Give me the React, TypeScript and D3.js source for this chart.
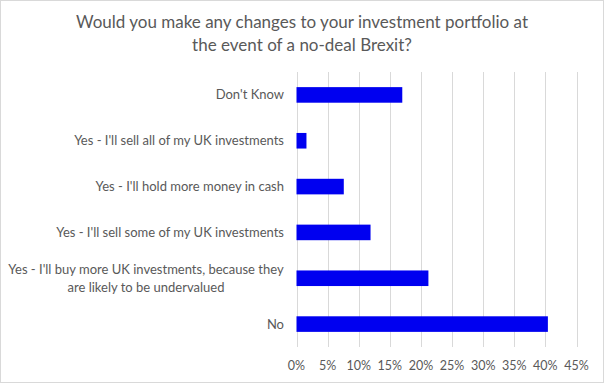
import React from "react";
import * as d3 from "d3";

const categories = [
  "Don't Know",
  "Yes - I'll sell all of my UK investments",
  "Yes - I'll hold more money in cash",
  "Yes - I'll sell some of my UK investments",
  "Yes - I'll buy more UK investments, because they|are likely to be undervalued",
  "No",
];
const values = [0.17, 0.016, 0.076, 0.119, 0.212, 0.404];
const ticks = [0, 0.05, 0.1, 0.15, 0.2, 0.25, 0.3, 0.35, 0.4, 0.45];
const titleLines = [
  "Would you make any changes to your investment portfolio at",
  "the event of a no-deal Brexit?",
];

const W = 604;
const H = 383;
const FONT = "Lato, 'Open Sans', sans-serif";
const GREY = "#595959";

export default function App() {
  const x = d3.scaleLinear().domain([0, 0.45]).range([296.5, 576.5]);
  const y = d3
    .scaleBand<string>()
    .domain(categories)
    .range([72, 347])
    .paddingInner(0.66)
    .paddingOuter(0.33);
  const fmt = d3.format(".0%");
  return (
    <svg
      width={W}
      height={H}
      style={{ position: "absolute", left: 0, top: 0 }}
      fontFamily={FONT}
    >
      <rect x={0.5} y={0.5} width={W - 1} height={H - 1} fill="#fff" stroke="#d9d9d9" />
      {titleLines.map((t, i) => (
        <text
          key={i}
          x={302}
          y={28 + i * 23}
          textAnchor="middle"
          fontSize={17}
          fill={GREY}
        >
          {t}
        </text>
      ))}
      {ticks.map((t) => (
        <line
          key={t}
          x1={Math.round(x(t)) + 0.5}
          x2={Math.round(x(t)) + 0.5}
          y1={72}
          y2={347}
          stroke="#d9d9d9"
        />
      ))}
      {categories.map((c, i) => (
        <rect
          key={c}
          x={x(0)}
          y={y(c)!}
          width={x(values[i]) - x(0)}
          height={y.bandwidth()}
          fill="#0000f0"
        />
      ))}
      {ticks.map((t) => (
        <text
          key={"t" + t}
          x={x(t)}
          y={370}
          textAnchor="middle"
          fontSize={12.5}
          fill={GREY}
        >
          {fmt(t)}
        </text>
      ))}
      {categories.map((c) => {
        const lines = c.split("|");
        const cy = y(c)! + y.bandwidth() / 2;
        if (lines.length === 1) {
          return (
            <text
              key={"l" + c}
              x={284}
              y={cy + 4.5}
              textAnchor="end"
              fontSize={13}
              fill={GREY}
            >
              {c}
            </text>
          );
        }
        return (
          <text key={"l" + c} textAnchor="middle" fontSize={13} fill={GREY}>
            {lines.map((l, j) => (
              <tspan key={j} x={146} y={cy - 7.5 + j * 18 + 4.5 - 1}>
                {l}
              </tspan>
            ))}
          </text>
        );
      })}
    </svg>
  );
}
